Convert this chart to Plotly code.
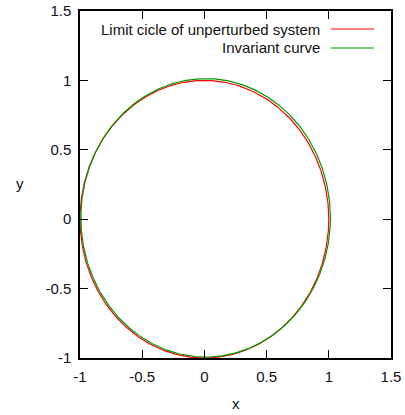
import numpy as np
import plotly.graph_objects as go

# Curve descriptions: centre (x, y) and radius of each closed orbit
curve_names = ["Limit cicle of unperturbed system", "Invariant curve"]
curve_cx = [0.0, 0.01]
curve_cy = [0.0, 0.01]
curve_r = [1.0, 1.003]
curve_colors = ["#ff0000", "#009a00"]

x_ticks = [-1, -0.5, 0, 0.5, 1, 1.5]
y_ticks = [-1, -0.5, 0, 0.5, 1, 1.5]
x_tick_text = ["-1", "-0.5", "0", "0.5", "1", "1.5"]
y_tick_text = ["-1", "-0.5", "0", "0.5", "1", "1.5"]

theta = np.linspace(0, 2 * np.pi, 721)

fig = go.Figure()
for name, cx, cy, r, col in zip(curve_names, curve_cx, curve_cy, curve_r, curve_colors):
    fig.add_trace(go.Scatter(
        x=cx + r * np.cos(theta), y=cy + r * np.sin(theta),
        mode="lines", name=name, line=dict(color=col, width=1.2),
        showlegend=False, hoverinfo="skip"))

font = dict(family="Liberation Sans, Arial, sans-serif", size=15, color="#111111")

axis_common = dict(
    showgrid=False, zeroline=False, showline=True, linecolor="black", linewidth=1.5,
    mirror="ticks", ticks="inside", ticklen=8, tickwidth=1, tickcolor="black",
    tickfont=font,
)

fig.update_layout(
    width=405, height=415,
    margin=dict(l=80, r=14, t=11, b=57, autoexpand=False),
    paper_bgcolor="white", plot_bgcolor="white",
    showlegend=False,
    font=font,
    xaxis=dict(range=[-1, 1.5], tickvals=x_ticks, ticktext=x_tick_text,
               ticklabelstandoff=4, **axis_common),
    yaxis=dict(range=[-1, 1.5], tickvals=y_ticks, ticktext=y_tick_text,
               ticklabelstandoff=4, **axis_common),
)

# x / y axis titles, set horizontally
fig.add_annotation(text="x", xref="paper", yref="paper", x=0.5, y=0,
                   yshift=-45, showarrow=False, font=font, yanchor="middle")
fig.add_annotation(text="y", xref="paper", yref="paper", x=0, y=0.504,
                   xshift=-60, showarrow=False, font=font, xanchor="center",
                   yanchor="middle")

# Key in the top-right corner: label on the left, line sample on the right
key_rows_y = [29, 48]
plot_top, plot_h = 11, 415 - 11 - 57
plot_left, plot_w = 80, 405 - 80 - 14
for name, col, ypx in zip(curve_names, curve_colors, key_rows_y):
    yp = 1 - (ypx - plot_top) / plot_h
    fig.add_annotation(text=name, xref="paper", yref="paper",
                       x=(322 - plot_left) / plot_w, y=yp, xanchor="right",
                       yanchor="middle", showarrow=False, font=font)
    fig.add_shape(type="line", xref="paper", yref="paper",
                  x0=(331 - plot_left) / plot_w, x1=(374 - plot_left) / plot_w,
                  y0=yp, y1=yp, line=dict(color=col, width=1.2))

fig.write_html("out.html")
